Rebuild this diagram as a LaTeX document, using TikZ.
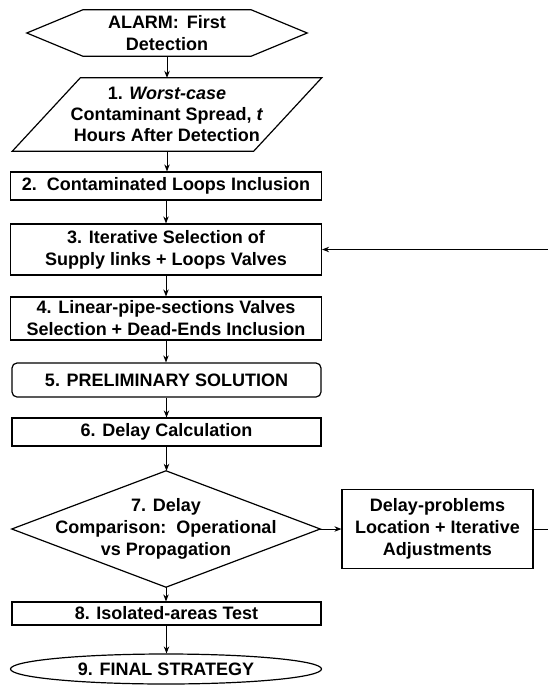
\documentclass[tikz,border=0pt]{standalone}
\usepackage{fontspec}
\setmainfont{Liberation Sans}
\usetikzlibrary{arrows.meta,shapes.geometric}
\begin{document}
\begin{tikzpicture}[x=1pt,y=-1pt,
  txt/.style={inner sep=0pt, align=center, font=\fontsize{18}{22}\selectfont\bfseries},
  box/.style={txt, draw, line width=1.2pt, rectangle},
  edge/.style={line width=1.2pt, line join=miter},
  arr/.style={-{Stealth[length=7pt,width=5.5pt]}, line width=1pt},
]
\useasboundingbox[fill=white] (0,0) rectangle (548,685);

% start: hexagon
\node[txt, minimum width=280pt, minimum height=46pt] (hex) at (167,33)
  {ALARM:\, First\\Detection};
\draw[edge] (hex.west) -- ([xshift=56pt]hex.north west) -- ([xshift=-56pt]hex.north east)
  -- (hex.east) -- ([xshift=-56pt]hex.south east) -- ([xshift=56pt]hex.south west) -- cycle;

% 1: parallelogram
\node[txt, minimum width=241pt, minimum height=73pt,
      font=\fontsize{18}{21}\selectfont\bfseries] (para) at (167,114.5)
  {1. \textit{Worst-case}\\Contaminant Spread, \textit{t}\\Hours After Detection};
\draw[edge] ([xshift=34pt]para.north west) -- ([xshift=34pt]para.north east)
  -- ([xshift=-34pt]para.south east) -- ([xshift=-34pt]para.south west) -- cycle;

% boxes
\node[box, minimum width=311pt, minimum height=28pt] (b2) at (166,186) {2.\ \ Contaminated Loops Inclusion};
\node[box, minimum width=311pt, minimum height=51pt] (b3) at (166,249.5) {3. Iterative Selection of\\Supply links + Loops Valves};
\node[box, minimum width=311pt, minimum height=43pt] (b4) at (166,318.5) {4. Linear-pipe-sections Valves\\Selection + Dead-Ends Inclusion};
\node[box, rounded corners=5pt, minimum width=309pt, minimum height=34pt] (b5) at (166.5,380) {5. PRELIMINARY SOLUTION};
\node[box, minimum width=309pt, minimum height=28pt] (b6) at (166.5,432) {6. Delay Calculation};

% 7: diamond
\node[txt, minimum width=308pt, minimum height=116pt] (dia) at (166,529)
  {7. Delay\\Comparison:\ \ Operational\\vs Propagation};
\draw[edge] (dia.west) -- (dia.north) -- (dia.east) -- (dia.south) -- cycle;

% side box
\node[box, minimum width=191pt, minimum height=79pt] (dp) at (437.5,529)
  {Delay-problems\\Location + Iterative\\Adjustments};

\node[box, minimum width=309pt, minimum height=23pt] (b8) at (166.5,613.5) {8. Isolated-areas Test};
\node[box, ellipse, minimum width=311pt, minimum height=30pt] (fin) at (166,669) {9. FINAL STRATEGY};

% connectors
\draw[arr] (hex.south) -- (para.south |- para.north);
\draw[arr] (para.south) -- (para.south |- b2.north);
\draw[arr] (b2.south) -- (b3.north);
\draw[arr] (b3.south) -- (b4.north);
\draw[arr] (b4.south) -- (b4.south |- b5.north);
\draw[arr] (b5.south) -- (b5.south |- b6.north);
\draw[arr] (b6.south) -- (b6.south |- dia.north);
\draw[arr] (dia.east) -- (dp.west);
\draw[arr] (dia.south) -- (dia.south |- b8.north);
\draw[arr] (b8.south) -- (b8.south |- fin.north);

% feedback loop (vertical part lies beyond the right border)
\coordinate (fa) at (548,529);
\coordinate (fb) at (548,249.5);
\draw[line width=1pt] (dp.east) -- (fa);
\draw[arr] (fb) -- (b3.east);
\end{tikzpicture}
\end{document}
